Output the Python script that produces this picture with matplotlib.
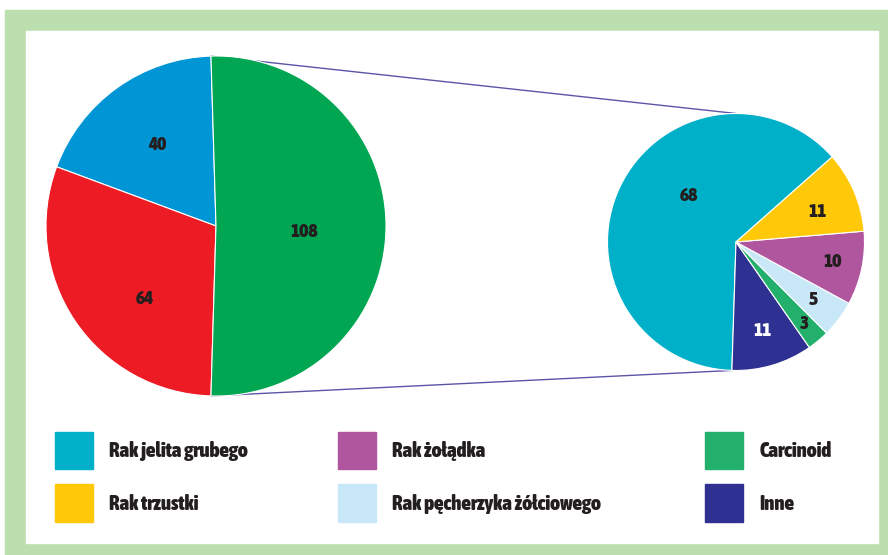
import numpy as np
import matplotlib.pyplot as plt
from matplotlib import font_manager
from matplotlib.font_manager import FontProperties
from matplotlib.patches import Rectangle, Patch

# left pie (counterclockwise from start angle)
main_values = [40, 64, 108]
main_colors = ['#0096d6', '#ed1c24', '#00a651']

# right pie: breakdown of the 108 slice
sub_labels = ['Rak jelita grubego', 'Inne', 'Carcinoid', 'Rak pęcherzyka żółciowego',
              'Rak żołądka', 'Rak trzustki']
sub_values = [68, 11, 3, 5, 10, 11]
sub_colors = ['#00b0c8', '#2e3192', '#22b06c', '#c8e8f8', '#b0569e', '#ffc90a']
sub_text = ['#231f20', 'white', '#231f20', '#231f20', '#231f20', '#231f20']

legend_cols = [
    ['Rak jelita grubego', 'Rak trzustki'],
    ['Rak żołądka', 'Rak pęcherzyka żółciowego'],
    ['Carcinoid', 'Inne'],
]
color_of = dict(zip(sub_labels, sub_colors))


# heavy condensed face if one is installed
def _w(f):
    w = f.weight
    if isinstance(w, str):
        w = font_manager.weight_dict.get(w, 400)
    return w


cands = [f for f in font_manager.fontManager.ttflist
         if _w(f) >= 700 and ('Narrow' in f.name or 'Condensed' in f.name
                              or f.stretch in ('condensed', 'semi-condensed', 'extra-condensed'))
         and f.style == 'normal']
cands.sort(key=lambda f: -_w(f))
if cands:
    FP = dict(fname=cands[0].fname)
else:
    FP = dict(family='DejaVu Sans', weight='bold')


def fp(size):
    return FontProperties(size=size, **FP)


W, H = 888, 555
fig = plt.figure(figsize=(8.88, 5.55), dpi=100)
ax = fig.add_axes([0, 0, 1, 1])

# frame
ax.add_patch(Rectangle((5, 0), W - 5, H - 10, color='#bcdfb0', zorder=0))
ax.add_patch(Rectangle((26, 12), 852, 512, color='white', zorder=0))

c1, r1 = (216, 329), 170
c2, r2 = (736, 313), 128.5

w1, _ = ax.pie(main_values, colors=main_colors, startangle=91.7, center=c1, radius=r1,
               wedgeprops=dict(edgecolor='white', linewidth=0.8), frame=True)
w2, _ = ax.pie(sub_values, colors=sub_colors, startangle=41.5, center=c2, radius=r2,
               wedgeprops=dict(edgecolor='white', linewidth=0.8), frame=True)
ax.set_xlim(0, W)
ax.set_ylim(0, H)
ax.set_aspect('equal')
ax.axis('off')

# connector lines from the big slice to the small pie
g = w1[2]
t1, t2 = np.radians(g.theta1), np.radians(g.theta2)
teal = w2[0]
a_top, a_bot = np.radians(90), np.radians(teal.theta2)
for ta, tb in [(t2, a_top), (t1, a_bot)]:
    ax.plot([c1[0] + r1 * np.cos(ta), c2[0] + r2 * np.cos(tb)],
            [c1[1] + r1 * np.sin(ta), c2[1] + r2 * np.sin(tb)],
            color='#5b55a8', lw=1, zorder=0.5)

# value labels: (angle shift from mid, distance as fraction of radius)
pos1 = [(0, 0.59), (12, 0.6), (-4, 0.52)]
for w, v, (da, d) in zip(w1, main_values, pos1):
    a = np.radians((w.theta1 + w.theta2) / 2 + da)
    ax.text(c1[0] + d * r1 * np.cos(a), c1[1] + d * r1 * np.sin(a), str(v),
            ha='center', va='center', fontproperties=fp(14), color='#231f20')

pos2 = [(-19, 0.51), (0, 0.72), (0, 0.83), (0, 0.75), (0, 0.77), (-3, 0.68)]
for w, v, (da, d), tc in zip(w2, sub_values, pos2, sub_text):
    a = np.radians((w.theta1 + w.theta2) / 2 + da)
    ax.text(c2[0] + d * r2 * np.cos(a), c2[1] + d * r2 * np.sin(a), str(v),
            ha='center', va='center', fontproperties=fp(14), color=tc)

# legend, three columns
col_x = [0.062, 0.381, 0.794]
for x, labels in zip(col_x, legend_cols):
    handles = [Patch(color=color_of[l], label=l) for l in labels]
    leg = fig.legend(handles=handles, loc='upper left', bbox_to_anchor=(x, 0.222),
                     frameon=False, handlelength=1.8, handleheight=2.4,
                     handletextpad=0.8, labelspacing=0.72, borderpad=0,
                     borderaxespad=0, prop=fp(15))
    for t in leg.get_texts():
        t.set_color('#231f20')

fig.savefig('out.png', dpi=100)
